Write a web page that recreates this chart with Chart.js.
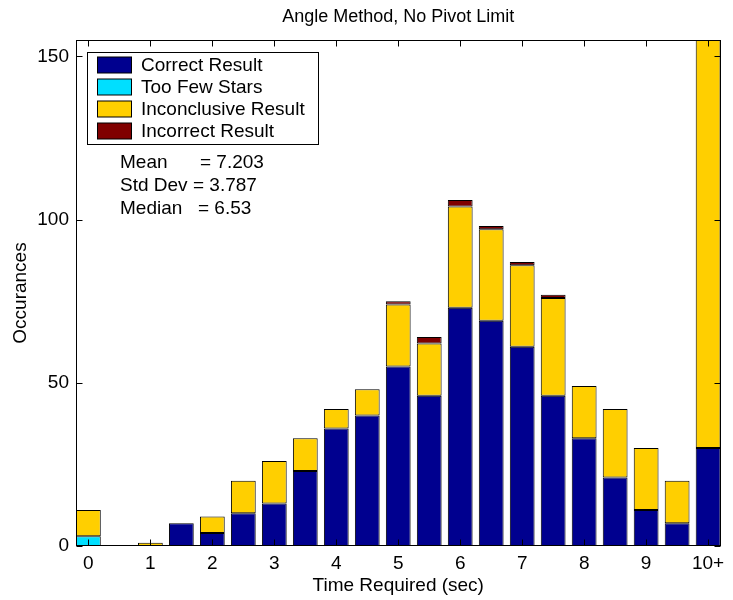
<!DOCTYPE html>
<html lang="en">
<head>
    <meta charset="UTF-8">
    <title>Angle Method, No Pivot Limit</title>
    <script src="https://cdn.jsdelivr.net/npm/chart.js@4.4.0"></script>
    <style>
        body { margin: 0; background: #fff; }
        .chart-container { width: 733px; height: 600px; position: relative; }
    </style>
</head>
<body>
    <div class="chart-container"><canvas id="chart"></canvas></div>

    <script>
        // histogram bins (sec), 10 = "10+"
        const times = [0, 0.5, 1, 1.5, 2, 2.5, 3, 3.5, 4, 4.5, 5, 5.5, 6, 6.5, 7, 7.5, 8, 8.5, 9, 9.5, 10];
        const correct      = [0, 0, 0, 7, 4, 10, 13, 23, 36, 40, 55, 46, 73, 69, 61, 46, 33, 21, 11, 7, 30];
        const tooFew       = [3, 0, 0, 0, 0, 0, 0, 0, 0, 0, 0, 0, 0, 0, 0, 0, 0, 0, 0, 0, 0];
        const inconclusive = [8, 0, 1, 0, 5, 10, 13, 10, 6, 8, 19, 16, 31, 28, 25, 30, 16, 21, 19, 13, 140];
        const incorrect    = [0, 0, 0, 0, 0, 0, 0, 0, 0, 0, 1, 2, 2, 1, 1, 1, 0, 0, 0, 0, 0];

        const seriesLabels = ['Correct Result', 'Too Few Stars', 'Inconclusive Result', 'Incorrect Result'];
        const seriesColors = ['#00008f', '#00dfff', '#ffcf00', '#800000'];

        const xTicks = [0, 1, 2, 3, 4, 5, 6, 7, 8, 9, 10];
        const xTickLabels = ['0', '1', '2', '3', '4', '5', '6', '7', '8', '9', '10+'];
        const yTicks = [0, 50, 100, 150];

        const statNames = ['Mean', 'Std Dev', 'Median'];
        const statValues = ['= 7.203', '= 3.787', '= 6.53'];

        const FONT = '"Liberation Sans", Arial, Helvetica, sans-serif';
        Chart.defaults.font.family = FONT;
        Chart.defaults.font.size = 19;
        Chart.defaults.color = '#000';

        const makeSet = (i, values) => ({
            label: seriesLabels[i],
            data: times.map((t, k) => ({ x: t, y: values[k] })),
            backgroundColor: seriesColors[i],
            borderColor: '#000',
            borderWidth: 1,
            borderSkipped: false,
            barPercentage: 0.8,
            categoryPercentage: 1.0
        });

        // box, inward ticks, title, legend and stats text (matlab look)
        const decorations = {
            id: 'decorations',
            afterDraw(chart) {
                const { ctx, chartArea: a, scales } = chart;
                const L = Math.round(a.left) + 0.5, R = Math.round(a.right) - 0.5;
                const T = Math.round(a.top) + 0.5, B = Math.round(a.bottom) - 0.5;
                ctx.save();
                ctx.strokeStyle = '#000';
                ctx.lineWidth = 1;
                ctx.strokeRect(L, T, R - L, B - T);

                const tl = 6;
                ctx.beginPath();
                xTicks.forEach(v => {
                    const px = Math.round(scales.x.getPixelForValue(v)) + 0.5;
                    ctx.moveTo(px, B); ctx.lineTo(px, B - tl);
                    ctx.moveTo(px, T); ctx.lineTo(px, T + tl);
                });
                yTicks.forEach(v => {
                    const py = Math.round(scales.y.getPixelForValue(v)) + 0.5;
                    ctx.moveTo(L, py); ctx.lineTo(L + tl, py);
                    ctx.moveTo(R, py); ctx.lineTo(R - tl, py);
                });
                ctx.stroke();

                ctx.fillStyle = '#000';
                ctx.font = '18px ' + FONT;
                ctx.textAlign = 'center';
                ctx.textBaseline = 'middle';
                ctx.fillText('Angle Method, No Pivot Limit', (a.left + a.right) / 2, 17);

                // legend
                ctx.font = '19px ' + FONT;
                ctx.fillStyle = '#fff';
                ctx.fillRect(87.5, 52.5, 231, 92);
                ctx.strokeRect(87.5, 52.5, 231, 92);
                ctx.textAlign = 'left';
                seriesLabels.forEach((lab, i) => {
                    const cy = 65 + i * 22;
                    ctx.fillStyle = seriesColors[i];
                    ctx.fillRect(97.5, cy - 8, 34, 16);
                    ctx.strokeRect(97.5, cy - 8, 34, 16);
                    ctx.fillStyle = '#000';
                    ctx.fillText(lab, 141, cy + 1);
                });

                const eqX = [200, 193, 198];
                statNames.forEach((n, i) => {
                    const cy = 163 + i * 23;
                    ctx.fillText(n, 120, cy);
                    ctx.fillText(statValues[i], eqX[i], cy);
                });
                ctx.restore();
            }
        };

        new Chart(document.getElementById('chart'), {
            type: 'bar',
            data: {
                datasets: [
                    makeSet(0, correct),
                    makeSet(1, tooFew),
                    makeSet(2, inconclusive),
                    makeSet(3, incorrect)
                ]
            },
            options: {
                responsive: true,
                maintainAspectRatio: false,
                animation: false,
                layout: { padding: { top: 40, right: 12.5, left: 0, bottom: 0 } },
                plugins: {
                    legend: { display: false },
                    tooltip: { enabled: false }
                },
                scales: {
                    x: {
                        type: 'linear',
                        stacked: true,
                        offset: false,
                        min: -0.2,
                        max: 10.2,
                        grid: { display: false, drawTicks: false },
                        border: { display: false },
                        afterBuildTicks: s => { s.ticks = xTicks.map(v => ({ value: v })); },
                        afterFit: s => { s.height = 54; },
                        ticks: {
                            padding: 6,
                            maxRotation: 0,
                            autoSkip: false,
                            callback: v => xTickLabels[xTicks.indexOf(v)]
                        },
                        title: { display: true, text: 'Time Required (sec)', padding: { top: 0, bottom: 3 } }
                    },
                    y: {
                        stacked: true,
                        min: 0,
                        max: 155,
                        grid: { display: false, drawTicks: false },
                        border: { display: false },
                        afterBuildTicks: s => { s.ticks = yTicks.map(v => ({ value: v })); },
                        afterFit: s => { s.width = 76; },
                        ticks: { padding: 7 },
                        title: { display: true, text: 'Occurances', padding: { top: 9, bottom: 0 } }
                    }
                }
            },
            plugins: [decorations]
        });
    </script>
</body>
</html>
